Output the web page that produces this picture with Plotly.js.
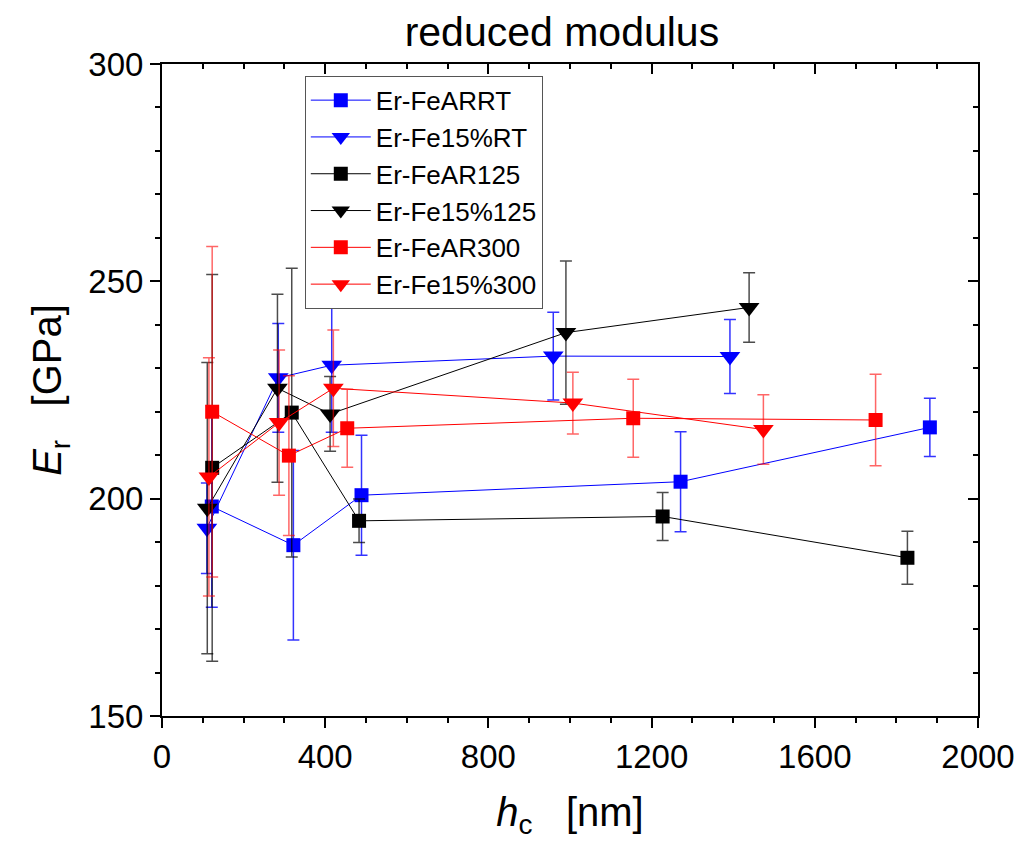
<!DOCTYPE html>
<html>
<head>
<meta charset="utf-8">
<script src="https://cdn.plot.ly/plotly-3.0.1.min.js"></script>
<style>html,body{margin:0;padding:0;background:#fff;}#chart{width:1031px;height:843px;}</style>
</head>
<body>
<div id="chart"></div>
<script>
// ---- data ----
const seriesNames = ["Er-FeARRT", "Er-Fe15%RT", "Er-FeAR125", "Er-Fe15%125", "Er-FeAR300", "Er-Fe15%300"];

const xARRT = [122, 322, 489, 1271, 1882];
const yARRT = [198.2, 189.3, 200.8, 203.9, 216.4];
const eARRT = [23.2, 21.8, 13.8, 11.5, 6.7];

const x15RT = [110, 285, 416, 959, 1392];
const y15RT = [193.2, 227.8, 230.7, 232.8, 232.7];
const e15RT = [10.4, 12.5, 15.4, 10.1, 8.5];

const xAR125 = [123, 318, 483, 1227, 1827];
const yAR125 = [207.1, 219.8, 194.9, 195.9, 186.4];
const eAR125 = [44.5, 33.2, 5.0, 5.5, 6.1];

const x15125 = [111, 283, 412, 990, 1439];
const y15125 = [197.8, 225.4, 219.5, 238.2, 244.0];
const e15125 = [33.5, 21.6, 8.6, 16.5, 8.0];

const xAR300 = [123, 311, 454, 1155, 1749];
const yAR300 = [220.0, 209.9, 216.2, 218.5, 218.1];
const eAR300 = [38.0, 18.4, 9.0, 9.0, 10.5];

const x15300 = [115, 287, 420, 1007, 1474];
const y15300 = [205.0, 217.5, 225.4, 222.0, 215.9];
const e15300 = [27.4, 16.7, 13.4, 7.1, 8.0];

const xTickVals = [0, 400, 800, 1200, 1600, 2000];
const yTickVals = [150, 200, 250, 300];

// ---- styling ----
const FONT = "Liberation Sans, Arial, sans-serif";
function mk(name, x, y, e, color, errColor, symbol, size) {
  return {
    type: "scatter", mode: "lines+markers", name: name,
    x: x, y: y,
    line: {color: color, width: 1},
    marker: {color: color, symbol: symbol, size: size, line: {width: 0}},
    error_y: {type: "data", array: e, visible: true, color: errColor, thickness: 1.5, width: 6}
  };
}
const blue = "#0000ff", black = "#000000", red = "#ff0000";
const traces = [
  mk(seriesNames[0], xARRT, yARRT, eARRT, blue, "rgba(0,0,255,0.8)", "square", 14),
  mk(seriesNames[1], x15RT, y15RT, e15RT, blue, "rgba(0,0,255,0.8)", "triangle-down", 18),
  mk(seriesNames[2], xAR125, yAR125, eAR125, black, "rgba(0,0,0,0.7)", "square", 14),
  mk(seriesNames[3], x15125, y15125, e15125, black, "rgba(0,0,0,0.7)", "triangle-down", 18),
  mk(seriesNames[4], xAR300, yAR300, eAR300, red, "rgba(255,0,0,0.6)", "square", 14),
  mk(seriesNames[5], x15300, y15300, e15300, red, "rgba(255,0,0,0.6)", "triangle-down", 18),
  // helper trace so the mirrored inside-tick axes (top/right) get drawn
  {type: "scatter", mode: "markers", x: [null], y: [null], xaxis: "x2", yaxis: "y2",
   showlegend: false, hoverinfo: "skip", marker: {opacity: 0}}
];

const layout = {
  width: 1031, height: 843,
  margin: {l: 162, r: 53, t: 64, b: 127, pad: 0},
  paper_bgcolor: "#ffffff", plot_bgcolor: "#ffffff",
  font: {family: FONT, color: "#000", size: 28},
  showlegend: true,
  title: {text: "reduced modulus", font: {family: FONT, size: 41, color: "#000"},
          x: 0.545, xanchor: "center", y: 0.962, yanchor: "middle"},
  xaxis: {
    range: [0, 2000], tickmode: "array", tickvals: xTickVals,
    ticks: "outside", ticklen: 10, tickwidth: 2, tickcolor: "#000",
    minor: {dtick: 100, ticks: "outside", ticklen: 5, tickwidth: 2, tickcolor: "#000"},
    showline: true, linewidth: 2, linecolor: "#000", mirror: true,
    showgrid: false, zeroline: false,
    tickfont: {family: FONT, size: 33, color: "#000"},
    title: {text: "<i>h</i><sub>c</sub>\u00a0\u00a0\u00a0[nm]", font: {family: FONT, size: 40, color: "#000"}, standoff: 24}
  },
  yaxis: {
    range: [150, 300], tickmode: "array", tickvals: yTickVals,
    ticks: "outside", ticklen: 10, tickwidth: 2, tickcolor: "#000",
    minor: {dtick: 10, ticks: "outside", ticklen: 5, tickwidth: 2, tickcolor: "#000"},
    showline: true, linewidth: 2, linecolor: "#000", mirror: true,
    showgrid: false, zeroline: false,
    tickfont: {family: FONT, size: 33, color: "#000"},
    title: {text: "<i>E</i><sub>r</sub>\u00a0\u00a0\u00a0[GPa]", font: {family: FONT, size: 40, color: "#000"}, standoff: 14}
  },
  xaxis2: {
    overlaying: "x", side: "top", anchor: "y2", range: [0, 2000], tickmode: "array", tickvals: xTickVals,
    ticks: "inside", ticklen: 10, tickwidth: 2, tickcolor: "#000",
    minor: {dtick: 100, ticks: "inside", ticklen: 5, tickwidth: 2, tickcolor: "#000"},
    showticklabels: false, showgrid: false, zeroline: false, showline: false
  },
  yaxis2: {
    overlaying: "y", side: "right", anchor: "x2", range: [150, 300], tickmode: "array", tickvals: yTickVals,
    ticks: "inside", ticklen: 10, tickwidth: 2, tickcolor: "#000",
    minor: {dtick: 10, ticks: "inside", ticklen: 5, tickwidth: 2, tickcolor: "#000"},
    showticklabels: false, showgrid: false, zeroline: false, showline: false
  },
  legend: {
    x: 0.175, y: 0.982, xanchor: "left", yanchor: "top",
    bgcolor: "#ffffff", bordercolor: "#555555", borderwidth: 1,
    font: {family: FONT, size: 26, color: "#000"},
    itemwidth: 60, tracegroupgap: 0
  }
};

Plotly.newPlot("chart", traces, layout, {displayModeBar: false, staticPlot: true});
</script>
</body>
</html>
